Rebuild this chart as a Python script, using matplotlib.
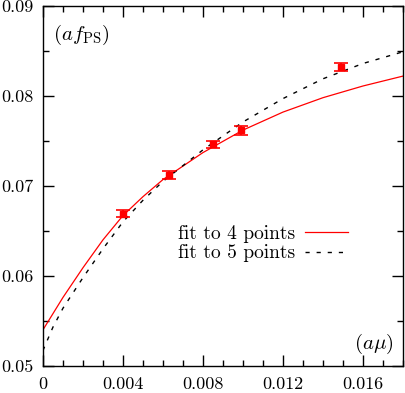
import matplotlib.pyplot as plt
from matplotlib.ticker import MultipleLocator, FixedFormatter, FixedLocator

plt.rcParams['font.family'] = 'serif'
plt.rcParams['font.serif'] = ['cmr10', 'DejaVu Serif']
plt.rcParams['mathtext.fontset'] = 'cm'
plt.rcParams['axes.formatter.use_mathtext'] = True

# Data points (a mu, a f_PS) with errors
mu = [0.0040, 0.0063, 0.0085, 0.0099, 0.0149]
fps = [0.0669, 0.0712, 0.0746, 0.0762, 0.0832]
fps_err = [0.0004, 0.00045, 0.00035, 0.0005, 0.0004]

# Fit curves
fit4_x = [0.0, 0.0005, 0.001, 0.002, 0.003, 0.004, 0.005, 0.006, 0.008,
          0.010, 0.012, 0.014, 0.016, 0.018]
fit4_y = [0.0540, 0.0558, 0.0576, 0.0609, 0.0640, 0.0667, 0.0688, 0.0707,
          0.0737, 0.0762, 0.0782, 0.0798, 0.0811, 0.0822]
fit5_x = [0.0, 0.0005, 0.001, 0.002, 0.003, 0.004, 0.005, 0.006, 0.008,
          0.010, 0.012, 0.014, 0.016, 0.018]
fit5_y = [0.0517, 0.0543, 0.0564, 0.0598, 0.0630, 0.0660, 0.0684, 0.0705,
          0.0740, 0.0771, 0.0797, 0.0819, 0.0836, 0.0849]

xticks = [0, 0.004, 0.008, 0.012, 0.016]
xticklabels = ['0', '0.004', '0.008', '0.012', '0.016']
yticks = [0.05, 0.06, 0.07, 0.08, 0.09]
yticklabels = ['0.05', '0.06', '0.07', '0.08', '0.09']

fig = plt.figure(figsize=(4.05, 3.93), dpi=100)
ax = fig.add_axes([0.106, 0.069, 0.889, 0.916])

ax.plot(fit4_x, fit4_y, color='#ff0000', lw=0.9, label='fit to 4 points')
ax.plot(fit5_x, fit5_y, color='black', lw=1.0, dashes=(3, 5),
        label='fit to 5 points')
ax.errorbar(mu, fps, yerr=fps_err, fmt='s', color='#ff0000', ms=4.5,
            capsize=5, elinewidth=1.2, capthick=1.2)

ax.set_xlim(0, 0.018)
ax.set_ylim(0.05, 0.09)
ax.xaxis.set_major_locator(FixedLocator(xticks))
ax.xaxis.set_major_formatter(FixedFormatter(xticklabels))
ax.xaxis.set_minor_locator(MultipleLocator(0.001))
ax.yaxis.set_major_locator(FixedLocator(yticks))
ax.yaxis.set_major_formatter(FixedFormatter(yticklabels))
ax.yaxis.set_minor_locator(MultipleLocator(0.005))
ax.tick_params(which='both', direction='in', top=True, right=True,
               labelsize=13, width=1.0)
ax.tick_params(which='major', length=8, pad=7)
ax.tick_params(axis='x', which='major', pad=7.5)
ax.tick_params(which='minor', length=4.5)
for s in ax.spines.values():
    s.set_linewidth(1.0)

ax.text(0.028, 0.918, r'$(af_{\rm PS})$', transform=ax.transAxes,
        fontsize=15, va='center', ha='left')
ax.text(0.975, 0.06, r'$(a\mu)$', transform=ax.transAxes,
        fontsize=15, va='center', ha='right')

ax.legend(loc='center right', bbox_to_anchor=(0.895, 0.34), frameon=False,
          markerfirst=False, fontsize=14, handlelength=2.2,
          labelspacing=0.1, handletextpad=0.5)

fig.savefig('out.png', dpi=100)
